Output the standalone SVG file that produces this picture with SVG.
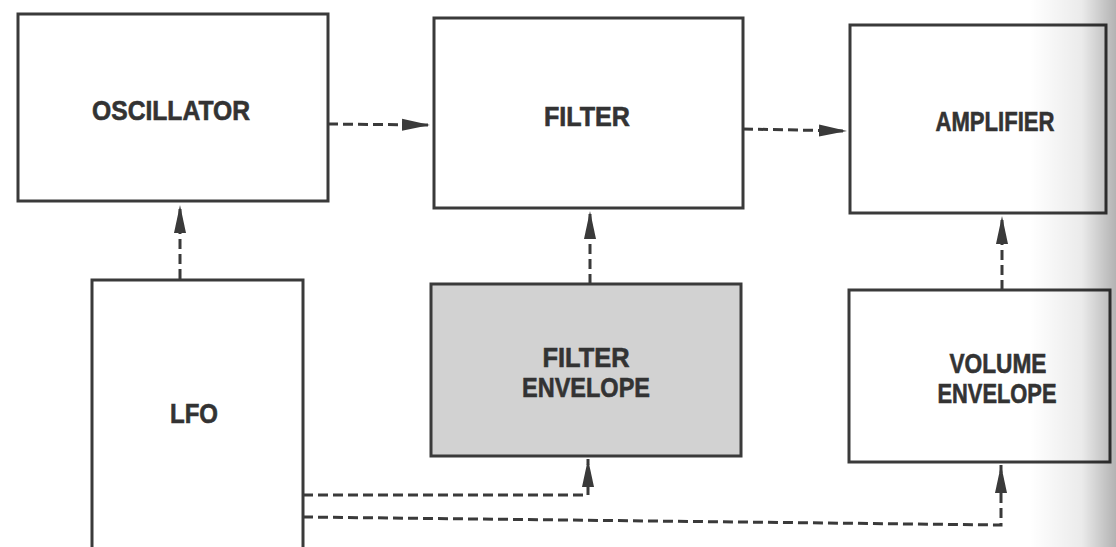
<svg xmlns="http://www.w3.org/2000/svg" width="1116" height="547" viewBox="0 0 1116 547">
<defs>
<marker id="arr" markerUnits="userSpaceOnUse" markerWidth="30" markerHeight="14" refX="28" refY="7" orient="auto">
<path d="M0,1 L28,7 L0,13 Z" fill="#3a3a3a"/>
</marker>
<linearGradient id="shade" x1="0" y1="0" x2="1" y2="0">
<stop offset="0" stop-color="#000" stop-opacity="0"/>
<stop offset="0.6" stop-color="#000" stop-opacity="0.08"/>
<stop offset="1" stop-color="#000" stop-opacity="0.3"/>
</linearGradient>
<style>
.box{fill:#fff;stroke:#3a3a3a;stroke-width:3}
.shaded{fill:#d2d2d2}
.lbl{font-family:"Liberation Sans",Arial,sans-serif;font-weight:bold;font-size:27px;fill:#333;stroke:#333;stroke-width:0.6;text-anchor:middle}
.c{fill:none;stroke:#3a3a3a;stroke-width:3;stroke-dasharray:10 5}
</style>
</defs>
<rect width="1116" height="547" fill="#fff"/>
<g id="connectors">
<line class="c" x1="328" y1="124" x2="430" y2="125" marker-end="url(#arr)"/>
<line class="c" x1="743" y1="129" x2="847" y2="131" marker-end="url(#arr)"/>
<line class="c" x1="180" y1="279" x2="180" y2="205" marker-end="url(#arr)"/>
<line class="c" x1="590" y1="284" x2="590" y2="211" marker-end="url(#arr)"/>
<line class="c" x1="1002" y1="290" x2="1002" y2="216" marker-end="url(#arr)"/>
<path class="c" d="M303,495 H588 V459" marker-end="url(#arr)"/>
<path class="c" d="M303,517 L1001,525 V465" marker-end="url(#arr)"/>
</g>
<g id="oscillator">
<rect class="box" x="18" y="14" width="310" height="187"/>
<text class="lbl" x="171" y="120" textLength="158" lengthAdjust="spacingAndGlyphs">OSCILLATOR</text>
</g>
<g id="filter">
<rect class="box" x="434" y="18" width="309" height="190"/>
<text class="lbl" x="587" y="126" textLength="86" lengthAdjust="spacingAndGlyphs">FILTER</text>
</g>
<g id="amplifier">
<rect class="box" x="850" y="25" width="256" height="188"/>
<text class="lbl" x="995" y="131" textLength="119" lengthAdjust="spacingAndGlyphs">AMPLIFIER</text>
</g>
<g id="lfo">
<rect class="box" x="92" y="280" width="211" height="280"/>
<text class="lbl" x="194" y="423" textLength="48" lengthAdjust="spacingAndGlyphs">LFO</text>
</g>
<g id="filter-envelope">
<rect class="box shaded" x="431" y="284" width="310" height="172"/>
<text class="lbl" x="586" y="367" textLength="87" lengthAdjust="spacingAndGlyphs">FILTER</text>
<text class="lbl" x="586" y="397" textLength="128" lengthAdjust="spacingAndGlyphs">ENVELOPE</text>
</g>
<g id="volume-envelope">
<rect class="box" x="849" y="290" width="261" height="172"/>
<text class="lbl" x="998" y="373" textLength="97" lengthAdjust="spacingAndGlyphs">VOLUME</text>
<text class="lbl" x="997" y="403" textLength="119" lengthAdjust="spacingAndGlyphs">ENVELOPE</text>
</g>
<rect x="1030" y="0" width="86" height="547" fill="url(#shade)"/>
</svg>
